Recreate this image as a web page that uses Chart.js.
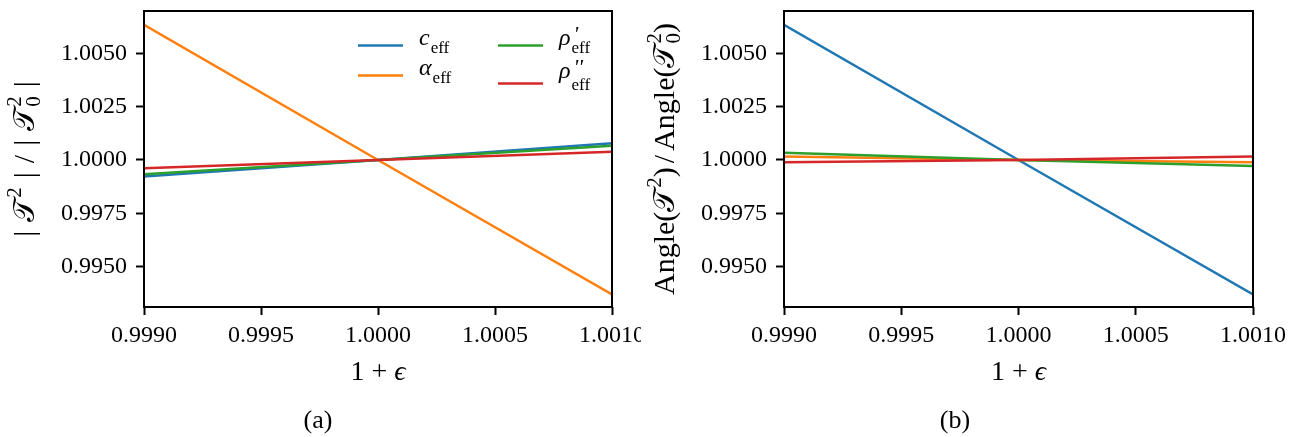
<!DOCTYPE html>
<html>
<head>
<meta charset="utf-8">
<script src="https://cdn.jsdelivr.net/npm/chart.js@4.4.1/dist/chart.umd.min.js"></script>
<style>
  html, body { margin: 0; padding: 0; background: #fff; }
  #wrap { position: relative; width: 1298px; height: 437px; }
  #panelA { position: absolute; left: 0; top: 0; }
  #panelB { position: absolute; left: 641px; top: 0; }
</style>
</head>
<body>
<div id="wrap">
  <canvas id="panelA" width="641" height="437"></canvas>
  <canvas id="panelB" width="657" height="437"></canvas>
</div>
<script>
// x values (1 + epsilon)
const xValues = [0.999, 1.0, 1.001];

// (a) |T^2| / |T0^2|
const magC     = [0.99922, 1.0, 1.00078];
const magAlpha = [1.00633, 1.0, 0.99370];
const magRho1  = [0.99933, 1.0, 1.00067];
const magRho2  = [0.99961, 1.0, 1.00039];

// (b) Angle(T^2) / Angle(T0^2)
const angC     = [1.00633, 1.0, 0.99370];
const angAlpha = [1.00016, 1.0, 0.99989];
const angRho1  = [1.00034, 1.0, 0.99972];
const angRho2  = [0.99989, 1.0, 1.00016];

const xTicks = [0.999, 0.9995, 1.0, 1.0005, 1.001];
const yTicks = [0.995, 0.9975, 1.0, 1.0025, 1.005];
const xMin = 0.999, xMax = 1.001;
const yMin = 0.99311, yMax = 1.00698;

const colors = ['#1f77b4', '#ff7f0e', '#2ca02c', '#d62728'];
const FAM = "'Liberation Serif', 'DejaVu Serif', serif";
const T = '\u{1D4AF}';

function rm(s) { return s + 'px ' + FAM; }
function it(s) { return 'italic ' + s + 'px ' + FAM; }

function drawRich(ctx, parts, cx, cy, rot) {
  ctx.save();
  ctx.translate(cx, cy);
  if (rot) ctx.rotate(rot);
  ctx.textAlign = 'left';
  ctx.textBaseline = 'alphabetic';
  ctx.fillStyle = '#000';
  let w = 0;
  for (const p of parts) {
    ctx.font = p.f;
    if (!p.stack) w += ctx.measureText(p.t).width + (p.gap || 0);
  }
  let x = -w / 2;
  for (const p of parts) {
    ctx.font = p.f;
    ctx.fillText(p.t, x, p.dy || 0);
    if (!p.stack) x += ctx.measureText(p.t).width + (p.gap || 0);
  }
  ctx.restore();
}

function drawLeft(ctx, parts, x, y) {
  ctx.save();
  ctx.textAlign = 'left';
  ctx.textBaseline = 'alphabetic';
  ctx.fillStyle = '#000';
  for (const p of parts) {
    ctx.font = p.f;
    ctx.fillText(p.t, x + (p.dx || 0), y + (p.dy || 0));
    if (!p.stack) x += ctx.measureText(p.t).width + (p.gap || 0);
  }
  ctx.restore();
}

const L = 30, LS = 21;
const xTitle = [
  {t: '1', f: rm(28), gap: 7}, {t: '+', f: rm(28), gap: 7}, {t: '\u03F5', f: it(28)}
];
const magTitle = [
  {t: '|', f: rm(L), gap: 9}, {t: T, f: rm(L), gap: 1}, {t: '2', f: rm(LS), dy: -13, gap: 9},
  {t: '|', f: rm(L), gap: 9}, {t: '/', f: rm(L), gap: 9},
  {t: '|', f: rm(L), gap: 9}, {t: T, f: rm(L), gap: 1},
  {t: '2', f: rm(LS), dy: -13, stack: true}, {t: '0', f: rm(LS), dy: 6, gap: 9},
  {t: '|', f: rm(L)}
];
const A = 30, AS = 21;
const angTitle = [
  {t: 'Angle(', f: rm(A)}, {t: T, f: rm(A), gap: 1}, {t: '2', f: rm(AS), dy: -13},
  {t: ')', f: rm(A), gap: 4}, {t: '/', f: rm(A), gap: 4}, {t: 'Angle(', f: rm(A)}, {t: T, f: rm(A), gap: 1},
  {t: '2', f: rm(AS), dy: -13, stack: true}, {t: '0', f: rm(AS), dy: 6},
  {t: ')', f: rm(A)}
];

const G = 24, GS = 17;
const legendItems = [
  {c: colors[0], lx: 358, ly: 45.5, ty: 45, parts: [{t: 'c', f: it(G), gap: 1}, {t: 'eff', f: rm(GS), dy: 8}]},
  {c: colors[1], lx: 358, ly: 75.5, ty: 75, parts: [{t: '\u03B1', f: it(G), gap: 1}, {t: 'eff', f: rm(GS), dy: 8}]},
  {c: colors[2], lx: 498, ly: 45.5, ty: 45, parts: [{t: '\u03C1', f: it(G), gap: 1}, {t: "'", f: it(22), dy: -4, dx: 2, stack: true}, {t: 'eff', f: rm(GS), dy: 8}]},
  {c: colors[3], lx: 498, ly: 83.5, ty: 78, parts: [{t: '\u03C1', f: it(G), gap: 1}, {t: "''", f: it(22), dy: -4, dx: 2, stack: true}, {t: 'eff', f: rm(GS), dy: 12}]}
];

const boxPlugin = {
  id: 'box',
  afterDraw(chart, args, opts) {
    const ctx = chart.ctx, a = chart.chartArea;
    ctx.save();
    ctx.strokeStyle = '#000';
    ctx.lineWidth = 2;
    ctx.strokeRect(a.left, a.top, a.right - a.left, a.bottom - a.top);
    ctx.restore();
    const cx = (a.left + a.right) / 2;
    drawRich(ctx, xTitle, cx, 380, 0);
    drawRich(ctx, opts.yTitle, opts.yTitleX, 159, -Math.PI / 2);
    drawRich(ctx, [{t: opts.tag, f: rm(26)}], opts.tagX, 428, 0);
    if (opts.legend) {
      for (const li of legendItems) {
        ctx.save();
        ctx.strokeStyle = li.c;
        ctx.lineWidth = 2.5;
        ctx.beginPath();
        ctx.moveTo(li.lx, li.ly);
        ctx.lineTo(li.lx + 45, li.ly);
        ctx.stroke();
        ctx.restore();
        drawLeft(ctx, li.parts, li.lx + 61, li.ty);
      }
    }
  }
};

function makeChart(id, series, W, left, right, box) {
  const names = ['c', 'alpha', 'rho1', 'rho2'];
  return new Chart(document.getElementById(id), {
    type: 'line',
    data: {
      datasets: series.map((s, i) => ({
        label: names[i],
        data: xValues.map((x, j) => ({x: x, y: s[j]})),
        borderColor: colors[i],
        borderWidth: 2.5,
        pointRadius: 0,
        tension: 0,
        fill: false,
        order: 3 - i
      }))
    },
    options: {
      responsive: false,
      animation: false,
      layout: {padding: {top: 11, right: W - right, left: 0, bottom: 0}},
      plugins: {legend: {display: false}, tooltip: {enabled: false}, box: box},
      scales: {
        x: {
          type: 'linear', min: xMin, max: xMax,
          afterBuildTicks: (s) => { s.ticks = xTicks.map(v => ({value: v})); },
          afterFit: (s) => { s.height = 437 - 307; s.paddingLeft = 0; s.paddingRight = 0; },
          border: {display: false},
          grid: {drawOnChartArea: false, drawTicks: true, tickLength: 8, tickWidth: 2, tickColor: '#000'},
          ticks: {color: '#000', padding: 6, maxRotation: 0, autoSkip: false,
                  font: {family: FAM, size: 24}, callback: (v) => Number(v).toFixed(4)}
        },
        y: {
          min: yMin, max: yMax,
          afterBuildTicks: (s) => { s.ticks = yTicks.map(v => ({value: v})); },
          afterFit: (s) => { s.width = left; s.paddingTop = 0; s.paddingBottom = 0; },
          border: {display: false},
          grid: {drawOnChartArea: false, drawTicks: true, tickLength: 8, tickWidth: 2, tickColor: '#000'},
          ticks: {color: '#000', padding: 9, autoSkip: false,
                  font: {family: FAM, size: 24}, callback: (v) => Number(v).toFixed(4)}
        }
      }
    },
    plugins: [boxPlugin]
  });
}

makeChart('panelA', [magC, magAlpha, magRho1, magRho2], 641, 144, 612,
  {yTitle: magTitle, yTitleX: 34, tag: '(a)', tagX: 318, legend: true});
makeChart('panelB', [angC, angAlpha, angRho1, angRho2], 657, 143, 612,
  {yTitle: angTitle, yTitleX: 33, tag: '(b)', tagX: 314, legend: false});
</script>
</body>
</html>
